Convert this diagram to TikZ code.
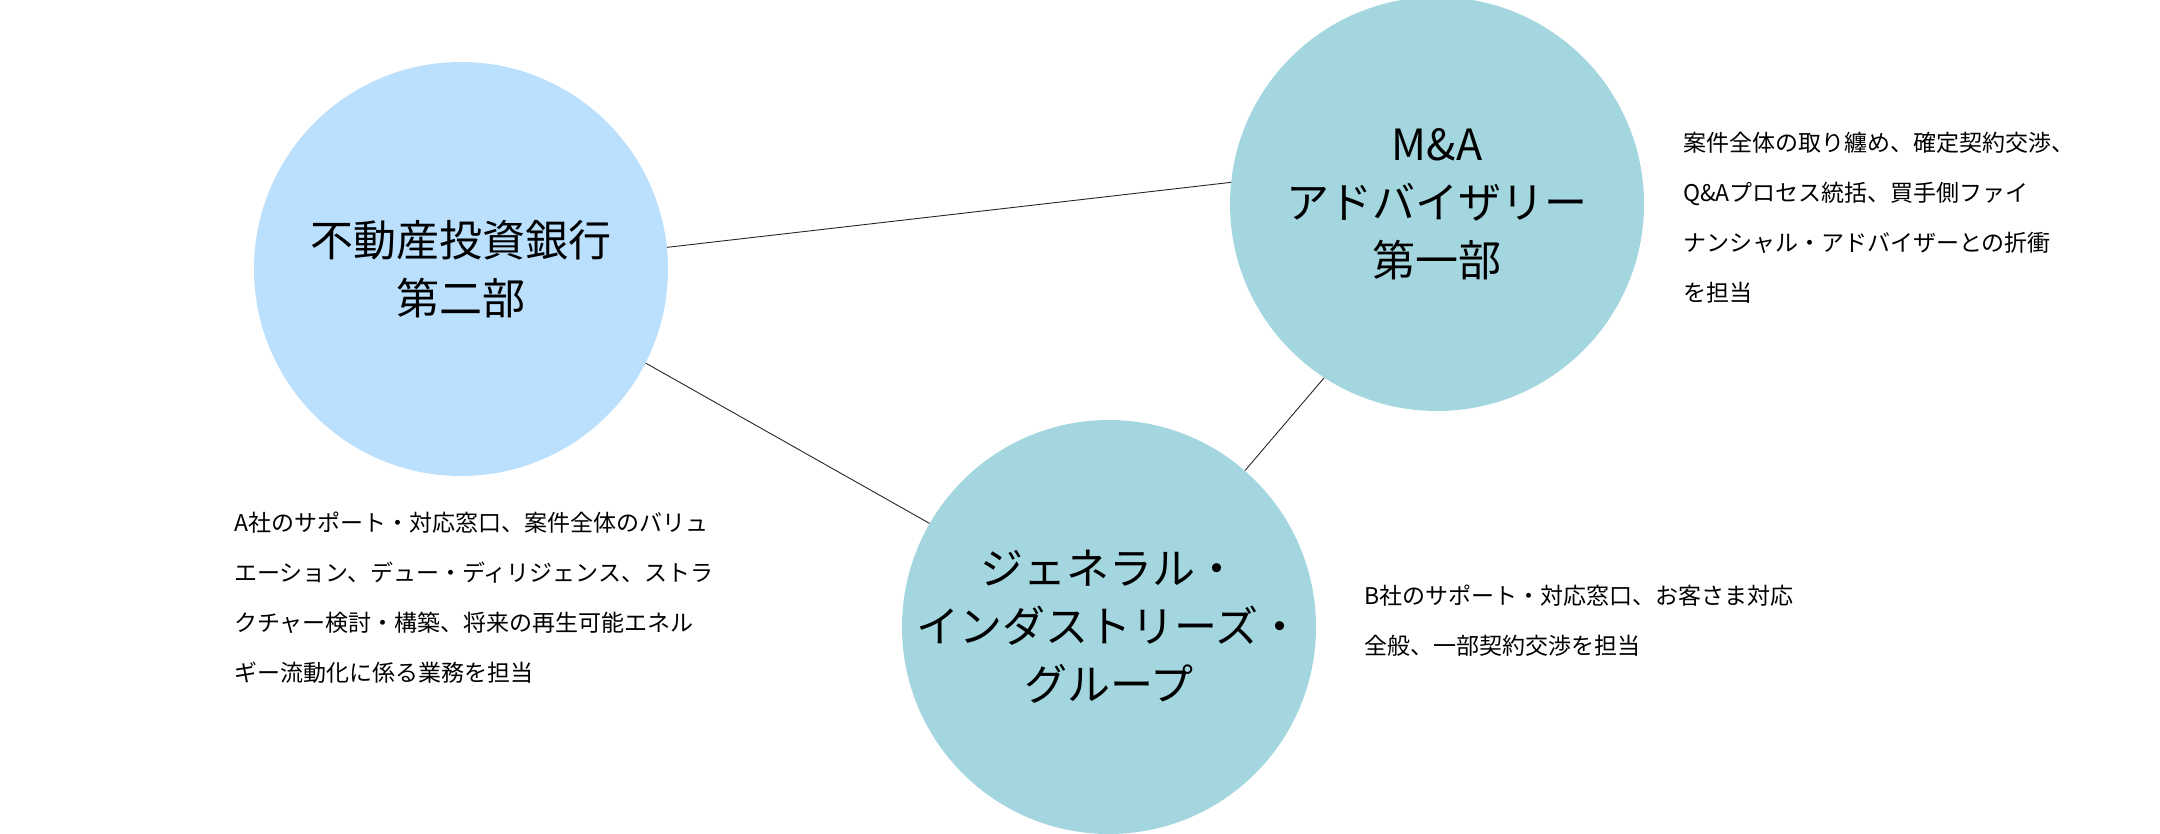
\documentclass[tikz,border=0pt]{standalone}
\usepackage{fontspec}
\setmainfont{Noto Sans CJK JP}
\newfontfamily\jpfont{Noto Sans CJK JP}
\definecolor{realblue}{HTML}{BAE0FD}
\definecolor{teamteal}{HTML}{A3D6DF}
\tikzset{
  team/.style={circle, minimum size=414pt, inner sep=0pt, align=center,
    font=\jpfont\fontsize{43}{58}\selectfont},
  duty/.style={anchor=north west, align=left, inner sep=0pt,
    font=\jpfont\fontsize{23}{50}\selectfont},
  link/.style={line width=0.9pt, black!85}
}
\begin{document}
\begin{tikzpicture}[x=1pt,y=-1pt]
    \useasboundingbox (0,0) rectangle (2160,834);

    \node[team, fill=realblue] (realestate) at (461,269) {不動産投資銀行\\第二部};
    \node[team, fill=teamteal] (mna) at (1437,204) {M\&A\\アドバイザリー\\第一部};
    \node[team, fill=teamteal] (general) at (1109,627) {ジェネラル・\\インダストリーズ・\\グループ};

    \draw[link] (realestate.6.5) -- (mna.174);
    \draw[link] (realestate.-27.6) -- (general.150);
    \draw[link] (mna.-123.6) -- (general.49.6);

    \node[duty] (mnatext) at (1683,132) {案件全体の取り纏め、確定契約交渉、\\Q\&Aプロセス統括、買手側ファイ\\ナンシャル・アドバイザーとの折衝\\を担当};
    \node[duty] (retext) at (234,512) {A社のサポート・対応窓口、案件全体のバリュ\\エーション、デュー・ディリジェンス、ストラ\\クチャー検討・構築、将来の再生可能エネル\\ギー流動化に係る業務を担当};
    \node[duty] (gentext) at (1364,585) {B社のサポート・対応窓口、お客さま対応\\全般、一部契約交渉を担当};
\end{tikzpicture}
\end{document}
